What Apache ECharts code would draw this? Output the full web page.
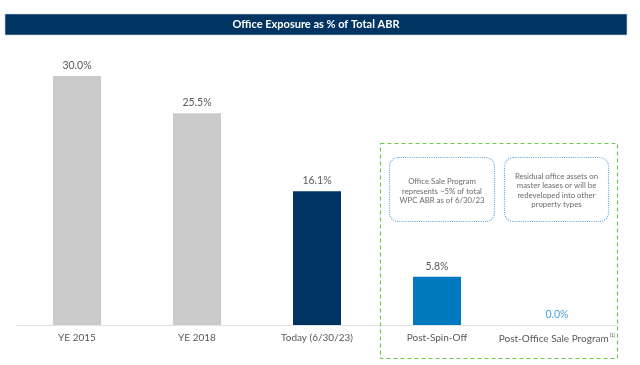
<!DOCTYPE html>
<html>
<head>
<meta charset="utf-8">
<script src="https://cdn.jsdelivr.net/npm/echarts@6/dist/echarts.min.js"></script>
<style>html,body{margin:0;padding:0;background:#fff}#c{width:640px;height:365px}</style>
</head>
<body>
<div id="c"></div>
<script>
const categories = ['YE 2015', 'YE 2018', 'Today (6/30/23)', 'Post-Spin-Off', 'Post-Office Sale Program'];
const values = [30.0, 25.5, 16.1, 5.8, 0.0];
const barColors = ['#cbcbcb', '#cbcbcb', '#003462', '#0079bf', '#0079bf'];
const titleText = 'Office Exposure as % of Total ABR';
const note1 = 'Office Sale Program\nrepresents ~5% of total\nWPC ABR as of 6/30/23';
const note2 = 'Residual office assets on\nmaster leases or will be\nredeveloped into other\nproperty types';

const FONT = 'Lato, "Open Sans", sans-serif';
const chart = echarts.init(document.getElementById('c'));
chart.setOption({
  animation: false,
  grid: { left: 17, right: 23, top: 76, bottom: 40 },
  xAxis: {
    type: 'category',
    data: categories,
    axisLine: { lineStyle: { color: '#e3e3e3', width: 1 } },
    axisTick: { show: false },
    axisLabel: {
      interval: 0, hideOverlap: false,
      color: '#595959', fontSize: 10, fontFamily: FONT, margin: 8,
      formatter: function (v) { return v === 'Post-Office Sale Program' ? v + '{sup|(1)}' : v; },
      rich: { sup: { fontSize: 5, verticalAlign: 'top', color: '#595959', padding: [0,0,6,1] } }
    }
  },
  yAxis: { type: 'value', min: 0, max: 30, show: false, splitLine: { show: false } },
  series: [{
    type: 'bar',
    barWidth: 48,
    data: values.map((v, i) => ({
      value: v,
      itemStyle: { color: barColors[i] },
      label: { color: i === 4 ? '#4da3db' : '#595959' }
    })),
    label: {
      show: true, position: 'top', distance: 5, fontSize: 10.5, fontFamily: FONT,
      formatter: p => p.value.toFixed(1) + '%'
    }
  }],
  graphic: [
    { type: 'rect', shape: { x: 5, y: 14, width: 622, height: 21 }, style: { fill: '#003462', stroke: '#c9d3de', lineWidth: 0.6 }, z: 1 },
    { type: 'text', x: 316, y: 24.5, style: { text: titleText, fill: '#ffffff', font: 'bold 11px ' + FONT, textAlign: 'center', textVerticalAlign: 'middle' }, z: 2 },
    { type: 'rect', shape: { x: 380.5, y: 143.5, width: 237, height: 215 }, style: { fill: 'none', stroke: '#6acb45', lineWidth: 1.2, lineDash: [4, 3] }, z: 3 },
    { type: 'rect', shape: { x: 389.5, y: 157.5, width: 105, height: 64, r: 9 }, style: { fill: 'none', stroke: '#5aa8dc', lineWidth: 1.2, lineDash: [1, 1.2] }, z: 3 },
    { type: 'rect', shape: { x: 504.5, y: 157.5, width: 104, height: 64, r: 9 }, style: { fill: 'none', stroke: '#5aa8dc', lineWidth: 1.2, lineDash: [1, 1.2] }, z: 3 },
    { type: 'text', x: 442, y: 191, style: { text: note1, fill: '#6b6b6b', font: '7.8px ' + FONT, textAlign: 'center', textVerticalAlign: 'middle', lineHeight: 9.5 }, z: 3 },
    { type: 'text', x: 556.5, y: 190.5, style: { text: note2, fill: '#6b6b6b', font: '7.8px ' + FONT, textAlign: 'center', textVerticalAlign: 'middle', lineHeight: 9.5 }, z: 3 }
  ]
});
</script>
</body>
</html>
